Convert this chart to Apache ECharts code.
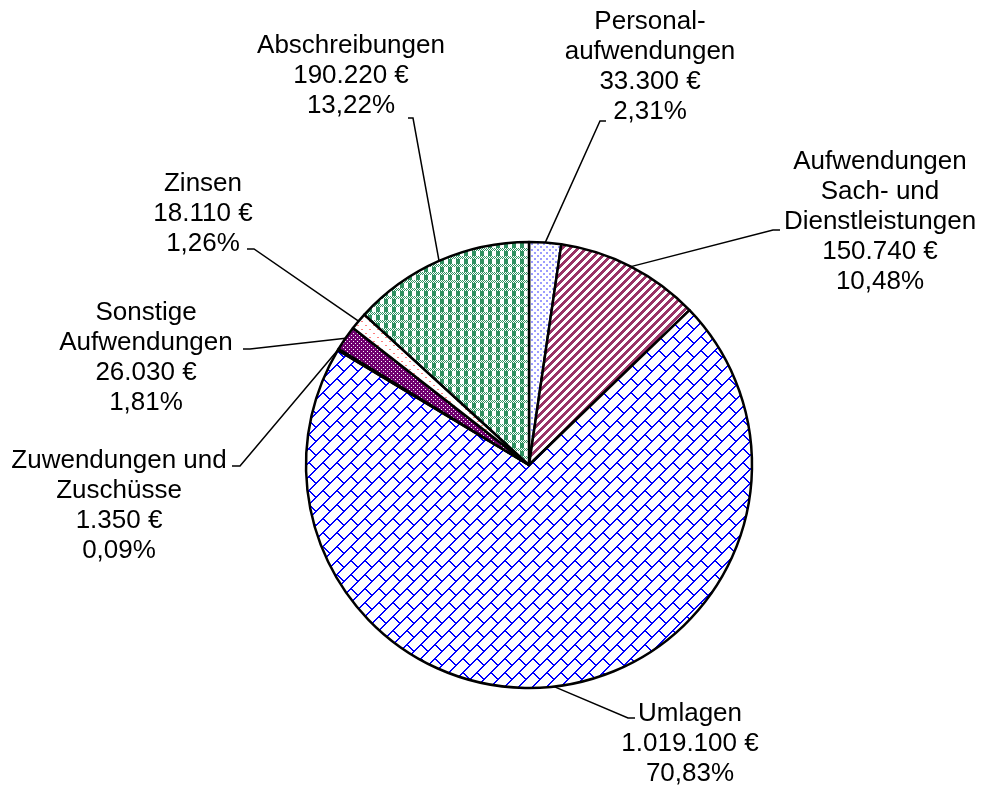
<!DOCTYPE html>
<html>
<head>
<meta charset="utf-8">
<script src="https://cdn.jsdelivr.net/npm/echarts@6/dist/echarts.min.js"></script>
<style>
  html, body { margin: 0; padding: 0; background: #fff; }
  #chart { width: 981px; height: 785px; }
</style>
</head>
<body>
<div id="chart"></div>
<script>
// Aufwendungen, im Uhrzeigersinn ab 12 Uhr
var names = ['Personal-\naufwendungen', 'Aufwendungen\nSach- und\nDienstleistungen', 'Umlagen',
  'Zuwendungen und\nZuschüsse', 'Sonstige\nAufwendungen', 'Zinsen', 'Abschreibungen'];
var values = [33300, 150740, 1019100, 1350, 26030, 18110, 190220];

// Label-Positionen (Mitte Textblock) und Knick der Führungslinie
var labelPos = [
  { x: 650, y: 67, elbow: [600, 121], end: [606, 121] },
  { x: 880, y: 222, elbow: [773, 230], end: [780, 230] },
  { x: 690, y: 744, elbow: [628, 718], end: [635, 718] },
  { x: 119, y: 506, elbow: [240, 466], end: [232, 466] },
  { x: 146, y: 358, elbow: [250, 349], end: [243, 349] },
  { x: 203, y: 214, elbow: [254, 249], end: [247, 249] },
  { x: 351, y: 76, elbow: [413, 118], end: [408, 118] }
];

// kleine Kachel-Muster wie in Excel
function tile(n, color, bg, fn) {
  var c = document.createElement('canvas');
  c.width = n; c.height = n;
  var ctx = c.getContext('2d');
  ctx.fillStyle = bg;
  ctx.fillRect(0, 0, n, n);
  ctx.fillStyle = color;
  for (var y = 0; y < n; y++) {
    for (var x = 0; x < n; x++) {
      if (fn(x, y)) ctx.fillRect(x, y, 1, 1);
    }
  }
  return { image: c, repeat: 'repeat' };
}

var patterns = [
  // hellblaue Punkte
  tile(6, '#9c9cff', '#fff', function (x, y) {
    return (x < 2 && y < 2) || (x >= 3 && x < 5 && y >= 3 && y < 5);
  }),
  // breite Diagonale
  tile(8, '#993366', '#fff', function (x, y) { return (x + y) % 8 < 4; }),
  // diagonale Ziegel
  tile(28, '#0000ff', '#fff', function (x, y) {
    var u = (x + y) % 28, v = ((x - y) % 28 + 28) % 28;
    if (u % 14 < 2) return true;
    var band = u < 14 ? 0 : 14;
    return ((v - band) % 28 + 28) % 28 < 2;
  }),
  tile(4, '#333333', '#fff', function (x, y) { return true; }),
  // lila mit weissen Punkten
  tile(4, '#700070', '#fff', function (x, y) {
    return !((x === 1 && y === 1) || (x === 3 && y === 3));
  }),
  // rosa Punkte
  tile(8, '#ff8080', '#fff', function (x, y) {
    return (y === 1 && (x === 1 || x === 2)) || (y === 5 && (x === 5 || x === 6));
  }),
  // gruenes Karo
  tile(8, '#2f9060', '#fff', function (x, y) {
    if (y < 3) return (x + y) % 2 === 0;
    return x < 4;
  })
];

var total = values.reduce(function (a, b) { return a + b; }, 0);

function euro(v) {
  return String(v).replace(/\B(?=(\d{3})+(?!\d))/g, '.') + ' €';
}

var chart = echarts.init(document.getElementById('chart'), null, { renderer: 'canvas' });

var option = {
  animation: false,
  backgroundColor: '#fff',
  series: [{
    type: 'pie',
    center: [529, 465],
    radius: 223,
    startAngle: 90,
    clockwise: true,
    avoidLabelOverlap: false,
    itemStyle: { borderColor: '#000', borderWidth: 2.5 },
    emphasis: { disabled: true },
    label: {
      show: true,
      color: '#000',
      fontFamily: 'Liberation Sans, Arial, sans-serif',
      fontSize: 26,
      lineHeight: 30,
      align: 'center',
      formatter: function (p) {
        var pct = (p.value / total * 100).toFixed(2).replace('.', ',');
        return p.name + '\n' + euro(p.value) + '\n' + pct + '%';
      }
    },
    labelLine: {
      show: true,
      length: 20,
      length2: 10,
      lineStyle: { color: '#000', width: 1.5 }
    },
    labelLayout: function (p) {
      var lp = labelPos[p.dataIndex];
      var start = p.labelLinePoints ? p.labelLinePoints[0] : lp.elbow;
      return {
        x: lp.x,
        y: lp.y,
        align: 'center',
        verticalAlign: 'middle',
        labelLinePoints: [start, lp.elbow, lp.end]
      };
    },
    data: names.map(function (n, i) {
      return { name: n, value: values[i], itemStyle: { color: patterns[i] } };
    })
  }]
};

chart.setOption(option);
</script>
</body>
</html>
